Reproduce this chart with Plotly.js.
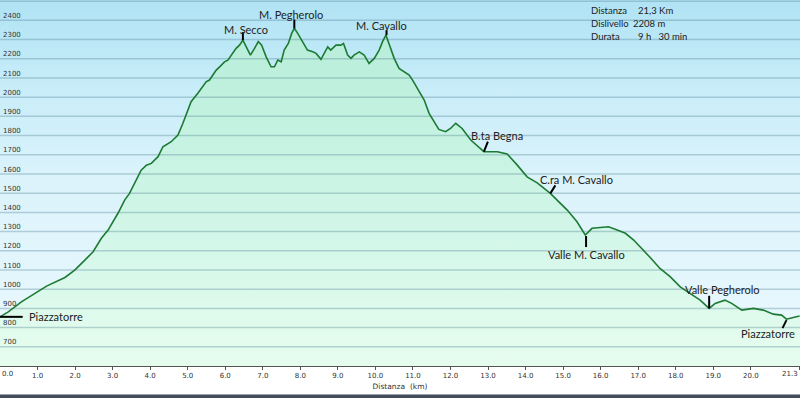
<!DOCTYPE html>
<html>
<head>
<meta charset="utf-8">
<script src="https://cdn.plot.ly/plotly-3.0.1.min.js"></script>
<style>html,body{margin:0;padding:0;background:#fff;}#chart{width:800px;height:398px;}</style>
</head>
<body>
<div id="chart"></div>
<script>
// ---- data ----
const distKm = [0.00,0.22,0.57,0.99,1.24,1.73,1.99,2.26,2.48,2.70,2.88,3.15,3.32,3.45,3.63,3.76,3.90,4.03,4.21,4.34,4.56,4.74,4.87,4.96,5.09,5.27,5.36,5.49,5.58,5.76,5.85,5.98,6.07,6.16,6.29,6.38,6.47,6.56,6.67,6.78,6.88,6.97,7.09,7.22,7.31,7.40,7.49,7.57,7.68,7.77,7.84,7.93,8.06,8.19,8.33,8.42,8.55,8.64,8.73,8.81,8.95,9.08,9.15,9.26,9.35,9.43,9.57,9.70,9.83,9.97,10.10,10.19,10.28,10.36,10.50,10.63,10.76,10.90,10.99,11.12,11.30,11.43,11.56,11.69,11.87,12.00,12.14,12.31,12.54,12.89,13.25,13.51,13.78,14.04,14.31,14.57,14.66,14.84,15.11,15.37,15.59,15.77,15.99,16.21,16.44,16.66,16.88,17.14,17.32,17.58,17.85,18.12,18.38,18.65,18.89,19.05,19.31,19.49,19.76,20.07,20.33,20.60,20.82,20.95,21.13,21.30];
const elevM  = [856,882,934,983,1016,1061,1099,1151,1195,1265,1308,1398,1464,1499,1568,1620,1646,1655,1690,1742,1768,1803,1863,1907,1976,2020,2046,2080,2089,2141,2158,2184,2193,2219,2254,2271,2297,2262,2219,2254,2289,2271,2210,2158,2158,2193,2184,2245,2280,2332,2358,2332,2289,2245,2236,2228,2197,2228,2262,2245,2271,2271,2280,2219,2202,2219,2236,2219,2176,2202,2245,2289,2323,2280,2202,2150,2132,2115,2089,2046,1985,1916,1870,1832,1820,1837,1864,1837,1777,1716,1716,1704,1646,1585,1554,1516,1499,1464,1412,1351,1282,1317,1322,1325,1308,1291,1256,1204,1165,1108,1065,1012,978,943,900,926,943,926,891,900,891,870,865,844,853,860];

const yTickVals = [700,800,900,1000,1100,1200,1300,1400,1500,1600,1700,1800,1900,2000,2100,2200,2300,2400,2500];
const yTickText = ['700','800','900','1000','1100','1200','1300','1400','1500','1600','1700','1800','1900','2000','2100','2200','2300','2400',''];
const xTickVals = [0,1,2,3,4,5,6,7,8,9,10,11,12,13,14,15,16,17,18,19,20,21.3];
const xTickText = ['0.0','1.0','2.0','3.0','4.0','5.0','6.0','7.0','8.0','9.0','10.0','11.0','12.0','13.0','14.0','15.0','16.0','17.0','18.0','19.0','20.0','21.3'];

const lmName = ['Piazzatorre','M. Secco','M. Pegherolo','M. Cavallo','B.ta Begna','C.ra M. Cavallo','Valle M. Cavallo','Valle Pegherolo','Piazzatorre'];
const lmKm   = [0.00, 6.47, 7.84, 10.28, 12.89, 14.66, 15.59, 18.89, 20.95];
const lmElev = [856, 2297, 2358, 2323, 1716, 1499, 1282, 900, 844];

const infoLabels = ['Distanza','Dislivello','Durata'];
const infoValues = ['21,3 Km','2208 m','9 h   30 min'];

// ---- style (pixel offsets for labels and leader ticks) ----
const lmStyle = [
  {xa:'left',  dx:26.5, dy:0,   t:[0,0,22.7,0]},
  {xa:'center',dx:3.5,  dy:11,  t:[0,0,0,8]},
  {xa:'center',dx:-3.8, dy:14.4,t:[0,0,0,9]},
  {xa:'center',dx:-4,   dy:10,  t:[0.6,0,0.6,5]},
  {xa:'center',dx:13.2, dy:15.9,t:[0,0,4,10]},
  {xa:'center',dx:26,   dy:13.6,t:[0,0,5,8]},
  {xa:'center',dx:1,    dy:-19, t:[0.8,-1,0.8,-12]},
  {xa:'center',dx:13,   dy:19,  t:[0,0,0,12.6]},
  {xa:'center',dx:-18.5,dy:-14, t:[0,-1,-4,-9]}
];

const X_RANGE = [0, 21.31];
const Y_RANGE = [600, 2506];

// gridline trace built from tick values
const gx = [], gy = [];
yTickVals.forEach(v => { gx.push(X_RANGE[0], X_RANGE[1], null); gy.push(v, v, null); });

const traces = [
  { // sky background
    x: X_RANGE, y: [Y_RANGE[1], Y_RANGE[1]], type:'scatter', mode:'lines',
    line:{width:0}, fill:'tozeroy', hoverinfo:'skip', showlegend:false,
    fillgradient:{type:'vertical', start:Y_RANGE[0], stop:Y_RANGE[1],
      colorscale:[[0,'#ebf9fe'],[0.5,'#dcf3fb'],[0.75,'#c9edf9'],[1,'#b0e3f4']]}
  },
  { // green area under profile
    x: distKm, y: elevM, type:'scatter', mode:'lines',
    line:{width:0}, fill:'tozeroy', hoverinfo:'skip', showlegend:false,
    fillgradient:{type:'vertical', start:Y_RANGE[0], stop:2400,
      colorscale:[[0,'#e6fdee'],[0.35,'#d4f7ea'],[1,'#b6edd8']]}
  },
  { // grid lines
    x: gx, y: gy, type:'scatter', mode:'lines', hoverinfo:'skip', showlegend:false,
    line:{color:'rgba(70,120,140,0.32)', width:1.5}
  },
  { // profile line
    x: distKm, y: elevM, type:'scatter', mode:'lines', showlegend:false,
    line:{color:'#1d7a33', width:1.6}
  }
];

const annotations = [];
const shapes = [];
lmName.forEach((n,i) => {
  const s = lmStyle[i];
  annotations.push({x:lmKm[i], y:lmElev[i], xref:'x', yref:'y', text:n, showarrow:false,
    xanchor:s.xa, yanchor:'middle', xshift:s.dx, yshift:s.dy,
    font:{family:'Lato, "Open Sans", sans-serif', size:11, color:'#222'}});
  shapes.push({type:'line', xref:'x', yref:'y', xsizemode:'pixel', ysizemode:'pixel',
    xanchor:lmKm[i], yanchor:lmElev[i], x0:s.t[0], y0:s.t[1], x1:s.t[2], y1:s.t[3],
    line:{color:'#000', width:2}, layer:'above'});
});
infoLabels.forEach((l,i) => {
  annotations.push({xref:'paper', yref:'paper', x:589/800, y:1 - (10 + i*13.3)/366, text:l,
    showarrow:false, xanchor:'left', yanchor:'middle',
    font:{family:'Lato, sans-serif', size:9.5, color:'#222'}});
  annotations.push({xref:'paper', yref:'paper', x:(i===1?630.5:635.5)/800, y:1 - (10 + i*13.3)/366,
    text:infoValues[i].replace(/ /g,'&nbsp;'),
    showarrow:false, xanchor:'left', yanchor:'middle',
    font:{family:'Lato, sans-serif', size:9.5, color:'#222'}});
});
// first and last x tick labels (edge labels, drawn as annotations so they stay inside)
const lastI = xTickVals.length-1;
annotations.push({xref:'x', yref:'paper', x:xTickVals[0], y:-8/366,
  text:xTickText[0], showarrow:false, xanchor:'left', yanchor:'middle', xshift:0,
  font:{family:'DejaVu Sans, sans-serif', size:7, color:'#333'}});
annotations.push({xref:'x', yref:'paper', x:xTickVals[lastI], y:-8/366,
  text:xTickText[lastI], showarrow:false, xanchor:'right', yanchor:'middle',
  font:{family:'DejaVu Sans, sans-serif', size:7, color:'#333'}});

shapes.push({type:'rect', xref:'paper', yref:'paper', x0:0, x1:1, y0:-(395-366)/366, y1:-(398-366)/366,
  line:{width:0}, fillcolor:'#444b59', layer:'above'});
shapes.push({type:'line', xref:'paper', yref:'paper', x0:0, x1:1, y0:-(394.5-366)/366, y1:-(394.5-366)/366,
  line:{width:1, color:'#9aa3b0'}, layer:'above'});

const layout = {
  width:800, height:398,
  margin:{l:0, r:0, t:0, b:32, pad:0},
  paper_bgcolor:'#ffffff', plot_bgcolor:'#eaf8fd',
  showlegend:false,
  xaxis:{
    range:X_RANGE, tickmode:'array', tickvals:xTickVals,
    ticktext:xTickText.map((t,i)=> (i===lastI || i===0) ? '' : t),
    showgrid:false, zeroline:false, showline:true, linecolor:'#555', linewidth:1,
    ticks:'outside', ticklen:3, tickwidth:1, tickcolor:'#555',
    ticklabeloverflow:'allow',
    tickfont:{family:'DejaVu Sans, sans-serif', size:7, color:'#333'},
    title:{text:'Distanza&nbsp;&nbsp;(km)', font:{family:'DejaVu Sans, sans-serif', size:7.5, color:'#333'}, standoff:4},
    fixedrange:true
  },
  yaxis:{
    range:Y_RANGE, tickmode:'array', tickvals:yTickVals, ticktext:yTickText,
    showgrid:false, zeroline:false, showline:false, ticks:'',
    ticklabelposition:'inside top', layer:'above traces',
    tickfont:{family:'DejaVu Sans, sans-serif', size:7, color:'#333'},
    fixedrange:true
  },
  annotations:annotations,
  shapes:shapes
};

Plotly.newPlot('chart', traces, layout, {displayModeBar:false, staticPlot:true});
</script>
</body>
</html>
